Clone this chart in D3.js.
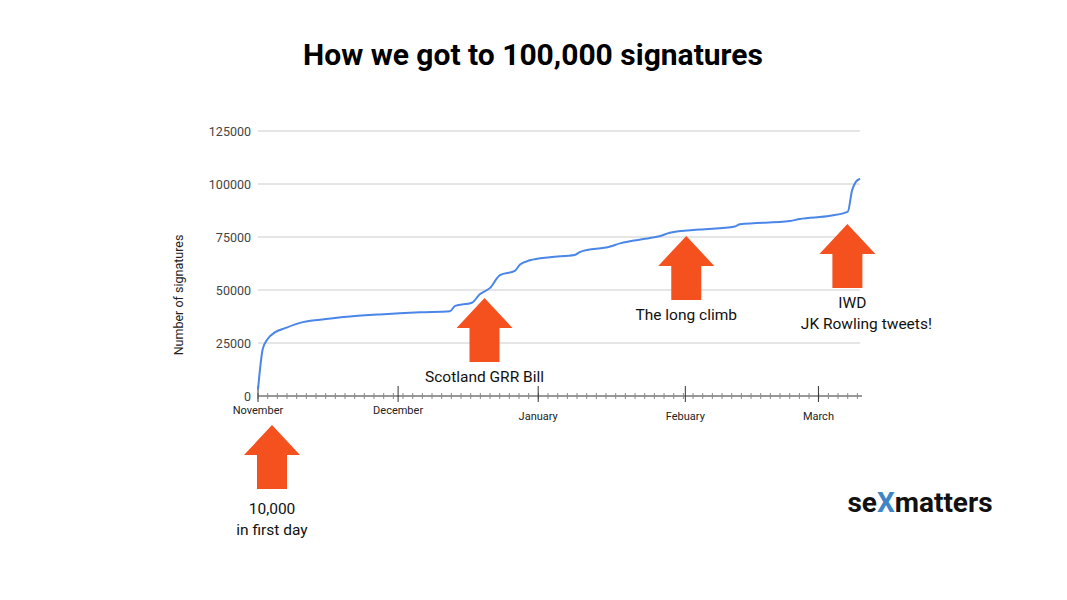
<!DOCTYPE html>
<html><head><meta charset="utf-8">
<script src="https://cdn.jsdelivr.net/npm/d3@7"></script>
<style>body{margin:0;background:#fff}text{font-family:Roboto,sans-serif}</style>
</head><body><svg id="c" width="1067" height="600"></svg>
<script>
// day index from 1 November
const days = [0,0.4,1,2.1,3.6,5.8,9,13.3,19.7,26.1,34.7,41.1,42.2,45.8,47.5,49.7,51.8,55,56.1,58.2,62.5,67.8,69,75.4,77.5,83.9,86.1,88.2,94.6,102.1,103.2,113.9,116,122.5,126.3,127.2,128,128.9];
const signatures = [3000,12000,22000,27000,30000,32000,34500,36000,37500,38500,39500,40000,42500,44000,48000,51000,57000,59000,62000,64000,65500,66500,68000,70500,72000,74500,75500,77000,78500,80000,81000,82500,83500,85000,87000,97000,101000,102500];
const yTicks = [0,25000,50000,75000,100000,125000];
const months = [{name:"November",day:0,dy:18},{name:"December",day:30,dy:18},{name:"January",day:60,dy:24},{name:"Febuary",day:91.5,dy:24},{name:"March",day:120,dy:24}];
const annotations = [{day:3,value:-13700,label:["10,000","in first day"],dx:[0,0]},{day:48.5,value:46200,label:["Scotland GRR Bill"],dx:[0]},{day:91.7,value:75500,label:["The long climb"],dx:[0]},{day:126.2,value:81100,label:["IWD","JK Rowling tweets!"],dx:[5,19]}];

const svg=d3.select("#c");
const x=d3.scaleLinear().domain([0,128.9]).range([258,860]);
const y=d3.scaleLinear().domain([0,125000]).range([396,131]);
const orange="#f4511e";

svg.append("text").attr("x",533).attr("y",65).attr("text-anchor","middle").attr("font-size",30).attr("font-weight",700).text("How we got to 100,000 signatures");

const g=svg.append("g");
g.selectAll("line.grid").data(yTicks.slice(1)).join("line").attr("x1",258).attr("x2",860).attr("y1",d=>y(d)).attr("y2",d=>y(d)).attr("stroke","#ccc");
g.selectAll("text.yt").data(yTicks).join("text").attr("x",251).attr("y",d=>y(d)+4.5).attr("text-anchor","end").attr("font-size",12.5).attr("fill","#444").text(d=>d);
svg.append("text").attr("transform","translate(183,295) rotate(-90)").attr("text-anchor","middle").attr("font-size",12.5).attr("fill","#222").text("Number of signatures");

// x axis
g.append("line").attr("x1",258).attr("x2",862).attr("y1",396).attr("y2",396).attr("stroke","#333");
g.selectAll("line.minor").data(d3.range(0,129,2.07)).join("line").attr("x1",d=>x(d)).attr("x2",d=>x(d)).attr("y1",393).attr("y2",399).attr("stroke","#888");
g.selectAll("line.major").data(months).join("line").attr("x1",d=>x(d.day)).attr("x2",d=>x(d.day)).attr("y1",386).attr("y2",402).attr("stroke","#333");
g.selectAll("text.mt").data(months).join("text").attr("x",d=>x(d.day)).attr("y",d=>396+d.dy).attr("text-anchor","middle").attr("font-size",11).attr("fill","#222").text(d=>d.name);

const line=d3.line().x((d,i)=>x(days[i])).y(d=>y(d)).curve(d3.curveMonotoneX);
g.append("path").attr("d",line(signatures)).attr("fill","none").attr("stroke","#4a86e8").attr("stroke-width",2);

// arrows
annotations.forEach(a=>{
  const cx=x(a.day), ty=y(a.value);
  const h=64, hw=28, sw=15, hh=30;
  svg.append("path").attr("d",`M${cx},${ty} L${cx+hw},${ty+hh} L${cx+sw},${ty+hh} L${cx+sw},${ty+h} L${cx-sw},${ty+h} L${cx-sw},${ty+hh} L${cx-hw},${ty+hh} Z`).attr("fill",orange);
  a.label.forEach((t,i)=>svg.append("text").attr("x",cx+a.dx[i]).attr("y",ty+h+(a.value<0?25:20)+i*21).attr("text-anchor","middle").attr("font-size",15.5).attr("fill","#111").text(t));
});

// logo
const logo=svg.append("text").attr("x",920).attr("y",512).attr("text-anchor","middle").attr("font-size",28).attr("font-weight",700).attr("fill","#111");
logo.append("tspan").text("se");logo.append("tspan").attr("fill","#3d85c6").text("X");logo.append("tspan").text("matters");
</script></body></html>
